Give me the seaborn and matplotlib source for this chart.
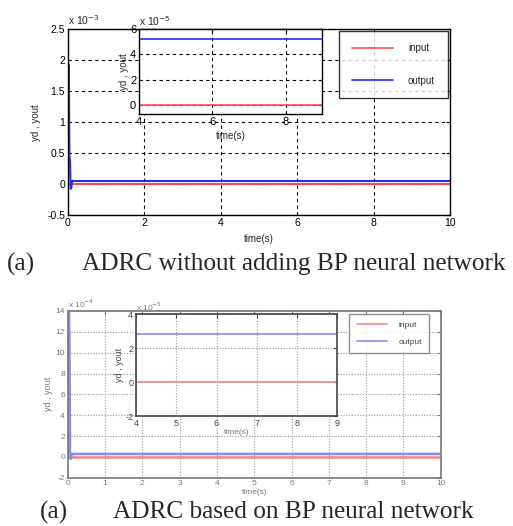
import numpy as np
import pandas as pd
import matplotlib
matplotlib.use("Agg")
import matplotlib.pyplot as plt
from matplotlib.ticker import FuncFormatter
import seaborn as sns

# (a) ADRC without BP network
t_a = [0, 0.03, 0.045, 0.06, 0.075, 0.09, 0.12, 10]
yout_a = [0, 1.92e-3, 0.40e-3, 0.40e-3, -0.07e-3, -0.07e-3, 5.25e-5, 5.25e-5]
yd_a = [0, 0, 0, 0, 0, 0, 0, 0]

# (b) ADRC with BP network
t_b = [0, 0.03, 0.045, 0.06, 0.08, 0.11, 10]
yout_b = [0, 14.5e-4, 11.1e-4, 0.5e-4, -0.2e-4, 2.8e-5, 2.8e-5]
yd_b = [0, 0, 0, 0, 0, 0, 0]

tags = ["(a)", "(a)"]
captions = ["ADRC without adding BP neural network",
            "ADRC based on BP neural network"]

sns.set_style("white")
plt.rcParams['font.family'] = ['Liberation Sans', 'DejaVu Sans']

df_a = pd.DataFrame({"t": t_a * 2, "y": yd_a + yout_a,
                     "s": ["input"] * len(t_a) + ["output"] * len(t_a)})
df_b = pd.DataFrame({"t": t_b * 2, "y": yd_b + yout_b,
                     "s": ["input"] * len(t_b) + ["output"] * len(t_b)})

fig = plt.figure(figsize=(5.13, 5.26), dpi=100)
W, H = 513, 526
serif = ["Liberation Serif", "DejaVu Serif"]


def place(x0, y0, x1, y1):
    # pixel box (top-left origin) -> figure axes
    return fig.add_axes([x0 / W, 1 - y1 / H, (x1 - x0) / W, (y1 - y0) / H])


def scaled(p):
    return FuncFormatter(lambda v, pos: f"{v / 10 ** p:g}")


def style(ax, color, grid_ls, grid_c, fs, lw_frame):
    ax.grid(True, linestyle=grid_ls, color=grid_c, linewidth=0.8)
    ax.tick_params(direction="in", length=3, labelsize=fs, colors=color,
                   top=True, right=True, pad=2)
    for s in ax.spines.values():
        s.set_color(color)
        s.set_linewidth(lw_frame)
        s.set_visible(True)


pal_a = {"input": "#ff4d4d", "output": "#2a2aff"}
pal_b = {"input": "#ee8a8a", "output": "#8c8cf0"}

# ---- top chart ----
ax1 = place(67.7, 29, 450, 215.3)
sns.lineplot(data=df_a, x="t", y="y", hue="s", palette=pal_a, ax=ax1,
             linewidth=1.5, legend=False, estimator=None, sort=False)
ax1.set_xlim(0, 10)
ax1.set_ylim(-0.5e-3, 2.5e-3)
ax1.set_xticks(np.arange(0, 11, 2))
ax1.set_yticks(np.arange(-0.5e-3, 2.6e-3, 0.5e-3))
ax1.yaxis.set_major_formatter(scaled(-3))
style(ax1, "black", (0, (3, 3)), "black", 7.5, 1.0)
ax1.set_xlabel("time(s)", fontsize=7)
ax1.set_ylabel("yd , yout", fontsize=7)
ax1.text(0.0, 1.02, "x 10$^{-3}$", transform=ax1.transAxes, fontsize=7.5)
h1 = [plt.Line2D([], [], color=pal_a[k], lw=1.2) for k in ["input", "output"]]
leg1 = fig.legend(h1, ["input", "output"], loc="upper left",
                  bbox_to_anchor=(339 / W, 1 - 30.7 / H), fontsize=7,
                  frameon=True, fancybox=False, edgecolor="black",
                  labelspacing=2.3, handlelength=4.3, handletextpad=1.5,
                  borderpad=1.3, borderaxespad=0)
leg1.get_frame().set_linewidth(1.0)

ins1 = place(139, 29, 322.3, 114)
sns.lineplot(data=df_a, x="t", y="y", hue="s", palette=pal_a, ax=ins1,
             linewidth=1.2, legend=False, estimator=None, sort=False)
ins1.set_xlim(4, 9)
ins1.set_ylim(-0.7e-5, 6e-5)
ins1.set_xticks([4, 6, 8])
ins1.set_yticks([0, 2e-5, 4e-5, 6e-5])
ins1.yaxis.set_major_formatter(scaled(-5))
style(ins1, "black", (0, (3, 3)), "black", 8, 1.0)
ins1.set_xlabel("time(s)", fontsize=7, labelpad=3)
ins1.set_ylabel("yd , yout", fontsize=7, labelpad=1)
ins1.text(0.0, 1.04, "x 10$^{-5}$", transform=ins1.transAxes, fontsize=7.5)

fig.text(7 / W, 1 - 264 / H, tags[0], fontsize=18.2, va="center", family=serif)
fig.text(82 / W, 1 - 264 / H, captions[0], fontsize=18.2, va="center",
         family=serif)

# ---- bottom chart ----
gray = "#777777"
ax2 = place(67.7, 311, 440.7, 477.7)
sns.lineplot(data=df_b, x="t", y="y", hue="s", palette=pal_b, ax=ax2,
             linewidth=1.9, legend=False, estimator=None, sort=False)
ax2.set_xlim(0, 10)
ax2.set_ylim(-2e-4, 14e-4)
ax2.set_xticks(range(0, 11))
ax2.set_yticks(np.arange(-2e-4, 14.1e-4, 2e-4))
ax2.yaxis.set_major_formatter(scaled(-4))
style(ax2, gray, (0, (1, 1.5)), "#999999", 6, 1.2)
ax2.set_xlabel("time(s)", fontsize=6, color=gray, labelpad=1)
ax2.set_ylabel("yd , yout", fontsize=6.5, color=gray, labelpad=2)
ax2.text(0.0, 1.02, "x 10$^{-4}$", transform=ax2.transAxes, fontsize=6,
         color=gray)
h2 = [plt.Line2D([], [], color=pal_b[k], lw=1.2) for k in ["input", "output"]]
leg2 = fig.legend(h2, ["input", "output"], loc="upper left",
                  bbox_to_anchor=(349 / W, 1 - 314 / H), fontsize=6,
                  frameon=True, fancybox=False, edgecolor=gray,
                  labelspacing=1.0, handlelength=3.6, handletextpad=1.4,
                  borderpad=0.9, borderaxespad=0)
leg2.get_frame().set_linewidth(1.0)
for txt in leg2.get_texts():
    txt.set_color("#444444")

ins2 = place(136, 314, 337.3, 416)
sns.lineplot(data=df_b, x="t", y="y", hue="s", palette=pal_b, ax=ins2,
             linewidth=1.2, legend=False, estimator=None, sort=False)
ins2.set_xlim(4, 9)
ins2.set_ylim(-2e-5, 4e-5)
ins2.set_xticks(range(4, 10))
ins2.set_yticks([-2e-5, 0, 2e-5, 4e-5])
ins2.yaxis.set_major_formatter(scaled(-5))
style(ins2, "#444444", (0, (1, 1.5)), "#999999", 6.5, 1.2)
ins2.set_xlabel("time(s)", fontsize=6, color=gray, labelpad=1)
ins2.set_ylabel("yd , yout", fontsize=6.5, color="#444444", labelpad=1)
ins2.text(0.0, 1.03, "x 10$^{-5}$", transform=ins2.transAxes, fontsize=6,
          color=gray)

fig.text(40 / W, 1 - 512 / H, tags[1], fontsize=18.2, va="center", family=serif)
fig.text(113 / W, 1 - 512 / H, captions[1], fontsize=18.2, va="center",
         family=serif)

fig.savefig("out.png", dpi=100)
